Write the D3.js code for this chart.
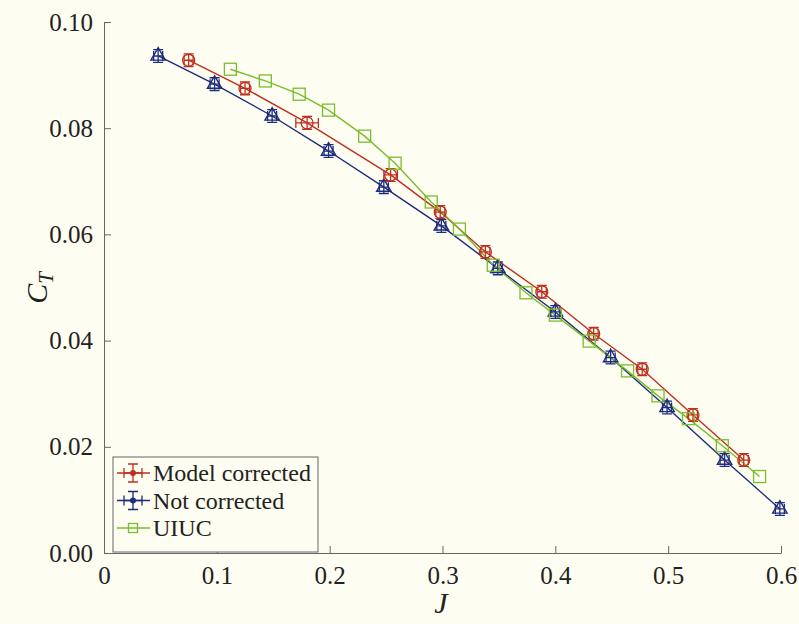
<!DOCTYPE html>
<html>
<head>
<meta charset="utf-8">
<script src="https://cdn.jsdelivr.net/npm/d3@7"></script>
<style>
  html, body { margin: 0; padding: 0; background: #fdfdf1; }
  svg { display: block; }
</style>
</head>
<body>
<div id="chart"></div>
<script>
// measured data
var jNot  = [0.048, 0.098, 0.149, 0.199, 0.248, 0.299, 0.349, 0.400, 0.449, 0.499, 0.550, 0.599];
var ctNot = [0.0936, 0.0883, 0.0823, 0.0757, 0.0689, 0.0616, 0.0536, 0.0454, 0.0368, 0.0274, 0.0175, 0.0083];

var jMod    = [0.075, 0.125, 0.180, 0.254, 0.298, 0.338, 0.388, 0.434, 0.477, 0.522, 0.567];
var ctMod   = [0.0928, 0.0875, 0.0810, 0.0712, 0.0642, 0.0567, 0.0492, 0.0413, 0.0346, 0.0260, 0.0175];
var jErrMod = [0.004, 0.004, 0.010, 0.006, 0.004, 0.004, 0.004, 0.004, 0.004, 0.004, 0.004];
var jErrNot = [0.004, 0.004, 0.004, 0.004, 0.004, 0.004, 0.004, 0.004, 0.004, 0.004, 0.004, 0.004];
var ctErr = 0.0012;

var jUiuc  = [0.112, 0.143, 0.173, 0.199, 0.231, 0.258, 0.290, 0.315, 0.345, 0.374, 0.400, 0.430, 0.464, 0.491, 0.518, 0.548, 0.581];
var ctUiuc = [0.0911, 0.0889, 0.0864, 0.0834, 0.0785, 0.0734, 0.0661, 0.0610, 0.0542, 0.0490, 0.0448, 0.0399, 0.0343, 0.0296, 0.0253, 0.0202, 0.0144];

var xTicks = [0, 0.1, 0.2, 0.3, 0.4, 0.5, 0.6];
var yTicks = [0, 0.02, 0.04, 0.06, 0.08, 0.10];

var width = 799, height = 624;
var blue = "#1d2c7c", red = "#bf2f1f", green = "#7abd2c";
var font = "'Liberation Serif', 'DejaVu Serif', 'Noto Serif', 'Times New Roman', Times, 'Nimbus Roman', FreeSerif, Tinos, serif";

var svg = d3.select("#chart").append("svg")
    .attr("width", width).attr("height", height);

svg.append("rect").attr("width", width).attr("height", height).attr("fill", "#fdfdf1");

var x = d3.scaleLinear().domain([0, 0.6]).range([104, 781]);
var y = d3.scaleLinear().domain([0, 0.10]).range([553, 22]);

// axes (ticks point inward)
var xAxis = g => g
    .attr("transform", `translate(0,${y(0)})`)
    .call(d3.axisBottom(x).tickValues(xTicks).tickSizeInner(-7).tickSizeOuter(0)
        .tickPadding(13).tickFormat(d => d === 0 ? "0" : d3.format(".1f")(d)))
    .call(g => g.selectAll("line, path").attr("stroke", "#666"))
    .call(g => g.selectAll("text").style("font-family", font).attr("font-size", 25).attr("fill", "#222"));

var yAxis = g => g
    .attr("transform", `translate(${x(0)},0)`)
    .call(d3.axisLeft(y).tickValues(yTicks).tickSizeInner(-7).tickSizeOuter(0)
        .tickPadding(11).tickFormat(d3.format(".2f")))
    .call(g => g.selectAll("line, path").attr("stroke", "#666"))
    .call(g => g.selectAll("text").style("font-family", font).attr("font-size", 25).attr("fill", "#222"));

svg.append("g").call(xAxis);
svg.append("g").call(yAxis);

// axis titles
svg.append("text")
    .attr("x", 441).attr("y", 613)
    .attr("text-anchor", "middle")
    .style("font-family", font).attr("font-style", "italic").attr("font-size", 30)
    .attr("fill", "#222").text("J");

var ct = svg.append("text")
    .attr("transform", "translate(47,288) rotate(-90)")
    .attr("text-anchor", "middle")
    .style("font-family", font).attr("font-style", "italic").attr("font-size", 30)
    .attr("fill", "#222");
ct.append("tspan").text("C");
ct.append("tspan").attr("dy", 6).attr("font-size", 21).text("T");

var line = d3.line().x(d => x(d[0])).y(d => y(d[1]));

function series(js, cts) { return js.map((j, i) => [j, cts[i]]); }

// error bars drawn in px around each point
function errBars(g, pts, jerr, color) {
    var cap = 5;
    pts.forEach((p, i) => {
        var cx = x(p[0]), cy = y(p[1]);
        var x0 = x(p[0] - jerr[i]), x1 = x(p[0] + jerr[i]);
        var y0 = y(p[1] - ctErr), y1 = y(p[1] + ctErr);
        var path = `M${x0},${cy}H${x1}M${x0},${cy - cap}V${cy + cap}M${x1},${cy - cap}V${cy + cap}` +
                   `M${cx},${y0}V${y1}M${cx - cap},${y0}H${cx + cap}M${cx - cap},${y1}H${cx + cap}`;
        g.append("path").attr("d", path).attr("stroke", color).attr("stroke-width", 1.3).attr("fill", "none");
    });
}

var notPts = series(jNot, ctNot);
var modPts = series(jMod, ctMod);
var uiucPts = series(jUiuc, ctUiuc);

// lines
svg.append("path").datum(notPts).attr("d", line)
    .attr("fill", "none").attr("stroke", blue).attr("stroke-width", 1.4);
svg.append("path").datum(modPts).attr("d", line)
    .attr("fill", "none").attr("stroke", red).attr("stroke-width", 1.4);
svg.append("path").datum(uiucPts).attr("d", line)
    .attr("fill", "none").attr("stroke", green).attr("stroke-width", 1.4);

// markers
var gNot = svg.append("g");
errBars(gNot, notPts, jErrNot, blue);
gNot.selectAll("path.m").data(notPts).enter().append("path")
    .attr("class", "m")
    .attr("transform", d => `translate(${x(d[0])},${y(d[1])})`)
    .attr("d", d3.symbol(d3.symbolTriangle, 90))
    .attr("fill", "none").attr("stroke", blue).attr("stroke-width", 1.4);

var gMod = svg.append("g");
errBars(gMod, modPts, jErrMod, red);
gMod.selectAll("circle").data(modPts).enter().append("circle")
    .attr("cx", d => x(d[0])).attr("cy", d => y(d[1])).attr("r", 6)
    .attr("fill", "none").attr("stroke", red).attr("stroke-width", 1.3);

svg.append("g").selectAll("rect").data(uiucPts).enter().append("rect")
    .attr("x", d => x(d[0]) - 6).attr("y", d => y(d[1]) - 6)
    .attr("width", 12).attr("height", 12)
    .attr("fill", "none").attr("stroke", green).attr("stroke-width", 1.3);

// legend
var lg = svg.append("g");
lg.append("rect").attr("x", 113).attr("y", 457).attr("width", 205).attr("height", 95)
    .attr("fill", "#fdfdf1").attr("stroke", "#666").attr("stroke-width", 1);

var names = ["Model corrected", "Not corrected", "UIUC"];
var colors = [red, blue, green];
names.forEach((n, i) => {
    var ly = 473 + i * 27.5;
    var g = lg.append("g");
    g.append("line").attr("x1", 117).attr("x2", 150).attr("y1", ly).attr("y2", ly)
        .attr("stroke", colors[i]).attr("stroke-width", 1.4);
    var cx = 133;
    if (i < 2) {
        g.append("path")
            .attr("d", `M${cx - 9},${ly}H${cx + 9}M${cx - 9},${ly - 5}V${ly + 5}M${cx + 9},${ly - 5}V${ly + 5}` +
                       `M${cx},${ly - 9}V${ly + 9}M${cx - 5},${ly - 9}H${cx + 5}M${cx - 5},${ly + 9}H${cx + 5}`)
            .attr("stroke", colors[i]).attr("stroke-width", 1.3).attr("fill", "none");
        g.append("circle").attr("cx", cx).attr("cy", ly).attr("r", 3)
            .attr("fill", colors[i]);
    } else {
        g.append("rect").attr("x", cx - 4.5).attr("y", ly - 4.5).attr("width", 9).attr("height", 9)
            .attr("fill", "none").attr("stroke", colors[i]).attr("stroke-width", 1.3);
    }
    g.append("text").attr("x", 153).attr("y", ly + 8)
        .style("font-family", font).attr("font-size", 24).attr("fill", "#222").text(n);
});
</script>
</body>
</html>
